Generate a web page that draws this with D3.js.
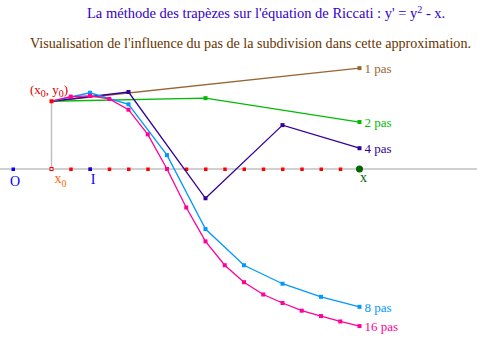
<!DOCTYPE html>
<html>
<head>
<meta charset="utf-8">
<script src="https://cdn.jsdelivr.net/npm/d3@7"></script>
<style>
    body { margin: 0; background: #fff; }
    text { font-family: "Liberation Serif", "DejaVu Serif", serif; }
</style>
</head>
<body>
<script>
// Methode des trapezes sur y' = y^2 - x, depart (x0, y0), arrivee X
var width = 477,
    height = 345;

var x0 = 0.5,
    xEnd = 4.5,
    y0 = 0.88;

// nombre de pas pour chaque approximation
var seriesNames = ["1 pas", "2 pas", "4 pas", "8 pas", "16 pas"];
var seriesSteps = [1, 2, 4, 8, 16];

// valeurs (y aux noeuds de la subdivision)
var pas1 = [0.88, 1.31];
var pas2 = [0.88, 0.92, 0.61];
var pas4 = [0.88, 1.00, -0.38, 0.57, 0.27];
var pas8 = [0.88, 0.99, 0.84, 0.18, -0.78, -1.25, -1.49, -1.66, -1.79];
var pas16 = [0.88, 0.94, 0.95, 0.91, 0.77, 0.45, 0.00, -0.50, -0.94,
    -1.25, -1.47, -1.63, -1.74, -1.84, -1.91, -1.98, -2.04];

var seriesValues = [pas1, pas2, pas4, pas8, pas16];
var seriesColors = ["#996633", "#00bb00", "#330099", "#0099ff", "#ff0099"];

var svg = d3.select("body").append("svg")
    .attr("width", width)
    .attr("height", height);

// meme unite sur les deux axes
var xScale = d3.scaleLinear().domain([0, 4.5]).range([13, 359.5]);
var yScale = d3.scaleLinear().domain([0, 1]).range([169, 92]);

// titres
var title = svg.append("text")
    .attr("x", 87).attr("y", 18)
    .attr("font-size", 14.5)
    .attr("fill", "#3300cc");
title.append("tspan").text("La méthode des trapèzes sur l'équation de Riccati : y' = y");
title.append("tspan").attr("dy", -5).attr("font-size", 10).text("2");
title.append("tspan").attr("dy", 5).text(" - x.");

svg.append("text")
    .attr("x", 30).attr("y", 48)
    .attr("font-size", 14)
    .attr("textLength", 441)
    .attr("lengthAdjust", "spacingAndGlyphs")
    .attr("fill", "#663300")
    .text("Visualisation de l'influence du pas de la subdivision " +
        "dans cette approximation.");

// axe horizontal
svg.append("line")
    .attr("x1", 0).attr("x2", width)
    .attr("y1", yScale(0)).attr("y2", yScale(0))
    .attr("stroke", "#c0c0c0")
    .attr("stroke-width", 1.5);

// segment vertical de x0 a y0
svg.append("line")
    .attr("x1", xScale(x0)).attr("x2", xScale(x0))
    .attr("y1", yScale(0)).attr("y2", yScale(y0))
    .attr("stroke", "#c0c0c0")
    .attr("stroke-width", 1.5);

// noeuds de la subdivision la plus fine sur l'axe
var nodes = d3.range(1, 16).map(function(k) { return x0 + k * (xEnd - x0) / 16; });
svg.selectAll("rect.node")
    .data(nodes)
    .enter()
    .append("rect")
    .attr("class", "node")
    .attr("x", function(d) { return xScale(d) - 1.5; })
    .attr("y", yScale(0) - 1.5)
    .attr("width", 3.5).attr("height", 3.5)
    .attr("fill", "#ff0000");

// O et I
svg.selectAll("rect.unit")
    .data([0, 1])
    .enter()
    .append("rect")
    .attr("class", "unit")
    .attr("x", function(d) { return xScale(d) - 1.5; })
    .attr("y", yScale(0) - 1.5)
    .attr("width", 3.5).attr("height", 3.5)
    .attr("fill", "#0000ff");

// x0 : petit carre creux
svg.append("rect")
    .attr("x", xScale(x0) - 1.5)
    .attr("y", yScale(0) - 1.5)
    .attr("width", 3).attr("height", 3)
    .attr("fill", "#fff")
    .attr("stroke", "#ff0000")
    .attr("stroke-width", 1);

// X : point vert
svg.append("circle")
    .attr("cx", xScale(xEnd))
    .attr("cy", yScale(0))
    .attr("r", 3.5)
    .attr("fill", "#006600");

// etiquettes de l'axe
svg.append("text")
    .attr("x", xScale(0) + 2).attr("y", 186)
    .attr("text-anchor", "middle")
    .attr("font-size", 14).attr("fill", "#0000ff")
    .text("O");
svg.append("text")
    .attr("x", xScale(1) + 3).attr("y", 184)
    .attr("text-anchor", "middle")
    .attr("font-size", 14).attr("fill", "#0000ff")
    .text("I");
var lx0 = svg.append("text")
    .attr("x", xScale(x0) + 3).attr("y", 183)
    .attr("font-size", 14).attr("fill", "#ff6600");
lx0.append("tspan").text("x");
lx0.append("tspan").attr("dy", 4).attr("font-size", 10).text("0");
svg.append("text")
    .attr("x", xScale(xEnd) + 4).attr("y", 182)
    .attr("text-anchor", "middle")
    .attr("font-size", 14).attr("fill", "#006600")
    .text("x");

// (x0, y0)
var lxy = svg.append("text")
    .attr("x", 30).attr("y", 94)
    .attr("font-size", 13).attr("fill", "#dd0000");
lxy.append("tspan").text("(x");
lxy.append("tspan").attr("dy", 3).attr("font-size", 10).text("0");
lxy.append("tspan").attr("dy", -3).text(", y");
lxy.append("tspan").attr("dy", 3).attr("font-size", 10).text("0");
lxy.append("tspan").attr("dy", -3).text(")");

// courbes approchees
var line = d3.line()
    .x(function(d) { return xScale(d.x); })
    .y(function(d) { return yScale(d.y); });

var series = seriesNames.map(function(name, i) {
    var n = seriesSteps[i];
    return {
        name: name,
        color: seriesColors[i],
        points: seriesValues[i].map(function(v, k) {
            return {x: x0 + k * (xEnd - x0) / n, y: v};
        })
    };
});

var g = svg.selectAll("g.serie")
    .data(series)
    .enter()
    .append("g")
    .attr("class", "serie");

g.append("path")
    .attr("d", function(d) { return line(d.points); })
    .attr("fill", "none")
    .attr("stroke", function(d) { return d.color; })
    .attr("stroke-width", 1.3);

g.selectAll("rect")
    .data(function(d) {
        return d.points.slice(1).map(function(p) {
            return {x: p.x, y: p.y, color: d.color};
        });
    })
    .enter()
    .append("rect")
    .attr("x", function(d) { return xScale(d.x) - 2; })
    .attr("y", function(d) { return yScale(d.y) - 2; })
    .attr("width", 4).attr("height", 4)
    .attr("fill", function(d) { return d.color; });

g.append("text")
    .attr("x", function(d) { return xScale(xEnd) + 5; })
    .attr("y", function(d) {
        return yScale(d.points[d.points.length - 1].y) + 5;
    })
    .attr("font-size", 13)
    .attr("fill", function(d) { return d.color; })
    .text(function(d) { return d.name; });

// point de depart
svg.append("rect")
    .attr("x", xScale(x0) - 2)
    .attr("y", yScale(y0) - 2)
    .attr("width", 4).attr("height", 4)
    .attr("fill", "#ff0000");
</script>
</body>
</html>
